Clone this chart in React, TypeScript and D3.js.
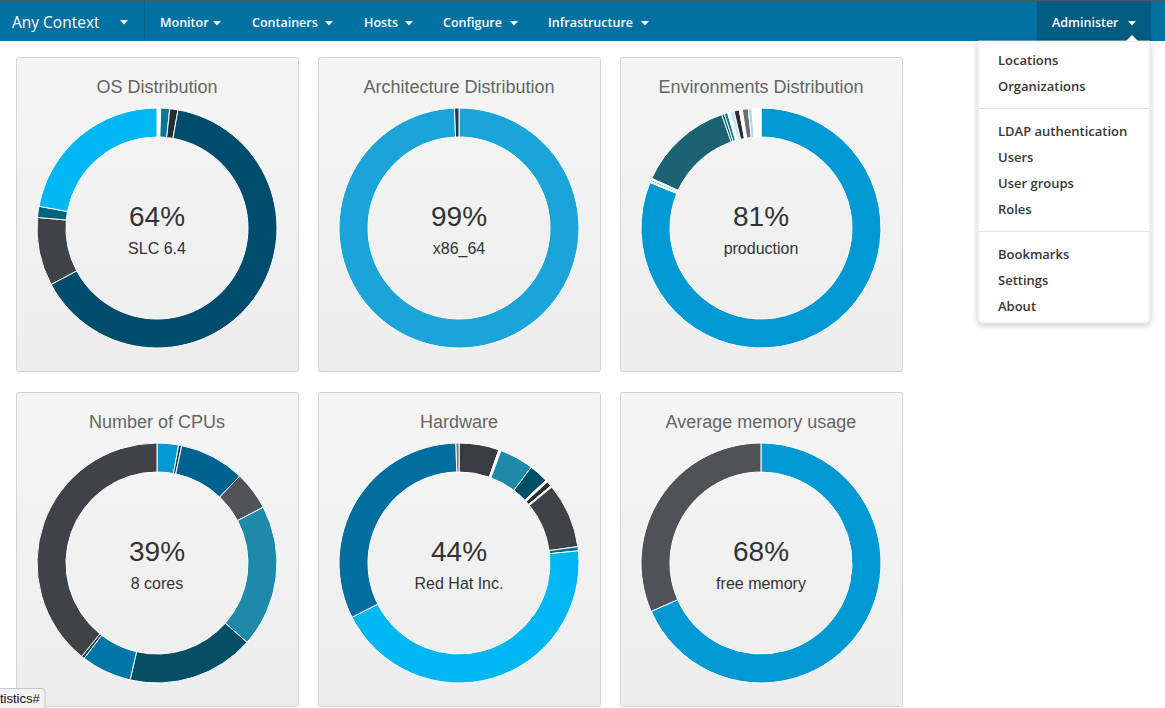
import React from 'react';
import * as d3 from 'd3';

// ---------- data ----------
const chartTitles = ['OS Distribution', 'Architecture Distribution', 'Environments Distribution', 'Number of CPUs', 'Hardware', 'Average memory usage'];

const osNames = ['Other OS a', 'Other OS b', 'Other OS c', 'SLC 6.4', 'Other OS d', 'Other OS e', 'Other OS f'];
const osValues = [0.5, 1.2, 1.1, 64.4, 9.2, 1.5, 22.1];
const osColors = ['#ffffff', '#00789a', '#292d32', '#004c6d', '#3f4246', '#00647f', '#00b7f1'];

const archNames = ['x86_64', 'i386'];
const archValues = [99.4, 0.6];
const archColors = ['#1ba4d8', '#123f56'];

const envNames = ['production', 'env a', 'env b', 'env c', 'env d', 'env e', 'env f', 'env g', 'env h', 'env i', 'env j', 'env k', 'env l', 'env m'];
const envValues = [81.2, 0.2, 0.2, 0.2, 12.9, 0.35, 0.45, 0.4, 0.5, 0.7, 0.4, 0.8, 0.5, 1.2];
const envColors = ['#0099d3', '#ffffff', '#00789a', '#ffffff', '#1c6272', '#0e4d66', '#00789a', '#ffffff', '#bfe7f6', '#292d32', '#ffffff', '#6b6f75', '#a8dcef', '#ffffff'];

const cpuNames = ['1 core', '2 cores', '4 cores', '6 cores', '12 cores', '16 cores', '24 cores', '32 cores', '8 cores'];
const cpuValues = [2.9, 0.4, 8.8, 5.2, 19.2, 17.1, 6.8, 0.4, 39.2];
const cpuColors = ['#0099d3', '#14384a', '#00638f', '#505358', '#1e8aa9', '#044f66', '#0076a8', '#14384a', '#3f4247'];

const hwNames = ['Vendor a', 'Vendor b', 'Vendor c', 'Vendor d', 'Vendor e', 'Vendor f', 'Vendor g', 'Vendor h', 'Vendor i', 'Red Hat Inc.', 'Vendor j', 'Vendor k'];
const hwValues = [5.4, 0.3, 4.6, 2.6, 0.3, 0.7, 0.2, 8.75, 0.55, 44.2, 32.1, 0.4];
const hwColors = ['#393c42', '#ffffff', '#1e8aa9', '#004f66', '#ffffff', '#292d32', '#ffffff', '#3f4247', '#006e8c', '#00b7f1', '#006f9f', '#6b6f75'];

const memNames = ['free memory', 'used memory'];
const memValues = [68.4, 31.6];
const memColors = ['#0099d3', '#4f5358'];

const navItems = ['Monitor', 'Containers', 'Hosts', 'Configure', 'Infrastructure'];
const menuGroups = [['Locations', 'Organizations'], ['LDAP authentication', 'Users', 'User groups', 'Roles'], ['Bookmarks', 'Settings', 'About']];

// ---------- components ----------
const W = 1165, H = 708;
const chartFont = '"Liberation Sans", Arial, sans-serif';
const navFont = '"Open Sans", "Liberation Sans", sans-serif';

function Caret({ x, y, fill = '#fff' }: { x: number; y: number; fill?: string }) {
  return <path d={`M${x},${y} l8,0 l-4,4.5 z`} fill={fill} />;
}

function Donut({ x, y, title, names, values, colors }: any) {
  const pw = 282, ph = 314;
  const cx = x + 141, cy = y + 171;
  const data = values.map((v: number, i: number) => ({ v, name: names[i], color: colors[i] }));
  const pie = d3.pie<any>().sort(null).value((d: any) => d.v);
  const arc = d3.arc<any>().innerRadius(91).outerRadius(120);
  const arcs = pie(data);
  const total = d3.sum(values as number[]);
  const maxIdx = d3.maxIndex(values as number[]);
  const pct = Math.round((values[maxIdx] / total) * 100);
  return (
    <g>
      <rect x={x + 0.5} y={y + 0.5} width={pw} height={ph} rx={2} fill="url(#panelGrad)" stroke="#d4d4d4" />
      <text x={cx} y={y + 36} textAnchor="middle" fontFamily={chartFont} fontSize={18} fill="#656565">{title}</text>
      <g transform={`translate(${cx},${cy})`}>
        {arcs.map((a, i) => (
          <path key={i} d={arc(a) as string} fill={a.data.color} stroke="#ffffff" strokeWidth={1} />
        ))}
        <text y={-2} textAnchor="middle" fontFamily={chartFont} fontSize={28} fill="#333">{pct}%</text>
        <text y={26} textAnchor="middle" fontFamily={chartFont} fontSize={16} fill="#333">{names[maxIdx]}</text>
      </g>
    </g>
  );
}

export default function App() {
  const charts = [
    { names: osNames, values: osValues, colors: osColors },
    { names: archNames, values: archValues, colors: archColors },
    { names: envNames, values: envValues, colors: envColors },
    { names: cpuNames, values: cpuValues, colors: cpuColors },
    { names: hwNames, values: hwValues, colors: hwColors },
    { names: memNames, values: memValues, colors: memColors },
  ];
  const navX = [160, 252, 364, 443, 548];
  const caretX = [213, 325, 405, 510, 641];
  // menu layout
  let yy = 65;
  const menuRows: { label: string; y: number }[] = [];
  const dividers: number[] = [];
  menuGroups.forEach((g, gi) => {
    g.forEach((label) => { menuRows.push({ label, y: yy }); yy += 26; });
    if (gi < menuGroups.length - 1) { dividers.push(yy - 9); yy += 19; }
  });
  return (
    <svg width={W} height={H} style={{ position: 'absolute', left: 0, top: 0, background: '#fff' }}>
      <defs>
        <linearGradient id="panelGrad" x1="0" y1="0" x2="0" y2="1">
          <stop offset="0" stopColor="#f5f5f5" />
          <stop offset="1" stopColor="#ededed" />
        </linearGradient>
        <filter id="shadow" x="-20%" y="-10%" width="140%" height="130%">
          <feDropShadow dx="0" dy="2" stdDeviation="3" floodColor="#000" floodOpacity="0.22" />
        </filter>
      </defs>
      {/* navbar */}
      <rect x={0} y={0} width={W} height={41} fill="#0071a0" />
      <rect x={0} y={0} width={W} height={1.5} fill="#4a5a63" />
      <text x={12} y={28} fontFamily={navFont} fontSize={15.5} fill="#fff">Any Context</text>
      <Caret x={120} y={20} />
      <rect x={144} y={1} width={1} height={40} fill="#00618a" />
      {navItems.map((t, i) => (
        <g key={t}>
          <text x={navX[i]} y={27} fontFamily={navFont} fontWeight={600} fontSize={12.5} fill="#fff">{t}</text>
          <Caret x={caretX[i]} y={21} />
        </g>
      ))}
      <rect x={1037} y={1} width={114} height={40} fill="#005c82" />
      <text x={1052} y={27} fontFamily={navFont} fontWeight={600} fontSize={12.5} fill="#fff">Administer</text>
      <Caret x={1128} y={21} />

      {/* panels */}
      {charts.map((c, i) => (
        <Donut key={i} x={16 + (i % 3) * 302} y={57 + Math.floor(i / 3) * 335} title={chartTitles[i]} {...c} />
      ))}

      {/* dropdown */}
      <g filter="url(#shadow)">
        <path d="M978,41 H1150 V319 a4,4 0 0 1 -4,4 H982 a4,4 0 0 1 -4,-4 Z" fill="#fff" stroke="#e2e2e2" strokeWidth={0.8} />
      </g>
      <path d="M1126,41 l6,-6 l6,6 z" fill="#fff" />
      {dividers.map((d, i) => (
        <rect key={i} x={978} y={d} width={172} height={1} fill="#e4e4e4" />
      ))}
      {menuRows.map((r) => (
        <text key={r.label} x={998} y={r.y} fontFamily={navFont} fontWeight={600} fontSize={13} fill="#363636">{r.label}</text>
      ))}

      {/* status bar */}
      <rect x={-2} y={688.5} width={47} height={22} rx={3} fill="#f2f2f2" stroke="#c6c6c6" />
      <text x={0} y={703} fontFamily={chartFont} fontSize={13} fill="#111">tistics#</text>
    </svg>
  );
}
